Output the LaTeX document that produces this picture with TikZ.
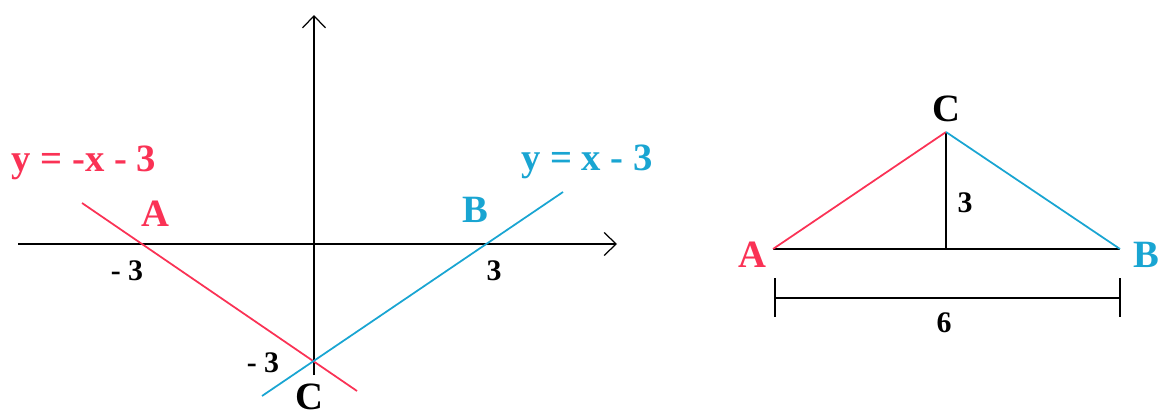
\documentclass[tikz,border=0pt]{standalone}
\usepackage{fontspec}
\setmainfont{Liberation Serif}
\usetikzlibrary{arrows.meta}
\definecolor{linered}{RGB}{250,50,85}
\definecolor{lineblue}{RGB}{25,165,210}

\begin{document}
\begin{tikzpicture}[x=0.02cm, y=-0.02cm,
		axis/.style={line width=1.3pt, -{Straight Barb[length=0.24cm, width=0.46cm, line width=0.7pt]}},
		thin line/.style={line width=1pt},
		big/.style={font=\fontsize{22}{24}\selectfont\bfseries},
		small/.style={font=\fontsize{17}{18}\selectfont\bfseries}]
		\useasboundingbox (0,0) rectangle (1159,415);
		
		% coordinate system
		\coordinate (xl) at (18,244);
		\coordinate (xr) at (617,244);
		\coordinate (yb) at (314,375);
		\coordinate (yt) at (314,15);
		\draw[axis] (xl) -- (xr);
		\draw[axis] (yb) -- (yt);
		
		\coordinate (r1) at (82,203);
		\coordinate (r2) at (357,391);
		\coordinate (b1) at (262,396);
		\coordinate (b2) at (563,192);
		\draw[thin line, linered] (r1) -- (r2);
		\draw[thin line, lineblue] (b1) -- (b2);
		
		\node (eqr) at (84,163) [big, linered] {y = -x - 3};
		\node (eqb) at (587,162) [big, lineblue] {y = x - 3};
		\node (pA) at (155,214) [big, linered] {A};
		\node (pB) at (475,210) [big, lineblue] {B};
		\node (pC) at (309,397) [big, inner sep=1pt] {C};
		\node (mx) at (127,271) [small] {- 3};
		\node (px) at (494,271) [small] {3};
		\node (my) at (263,363) [small] {- 3};
		
		% triangle
		\coordinate (A) at (773,249);
		\coordinate (B) at (1120,249);
		\coordinate (C) at (946,132);
		\coordinate (H) at (946,249);
		\draw[line width=1.3pt] (A) -- (B);
		\draw[line width=1.3pt] (C) -- (H);
		\draw[thin line, linered] (A) -- (C);
		\draw[thin line, lineblue] (C) -- (B);
		
		\node (tA) at (752,255) [big, linered] {A};
		\node (tB) at (1146,255) [big, lineblue] {B};
		\node (tC) at (946,109) [big] {C};
		\node (th) at (965,203) [small] {3};
		
		\coordinate (d1) at (775,298);
		\coordinate (d2) at (1120,298);
		\draw[thin line] (d1) -- (d2);
		\draw[thin line] (775,278) -- (775,317);
		\draw[thin line] (1120,278) -- (1120,317);
		\node (tw) at (944,323) [small] {6};
		
\end{tikzpicture}
\end{document}
